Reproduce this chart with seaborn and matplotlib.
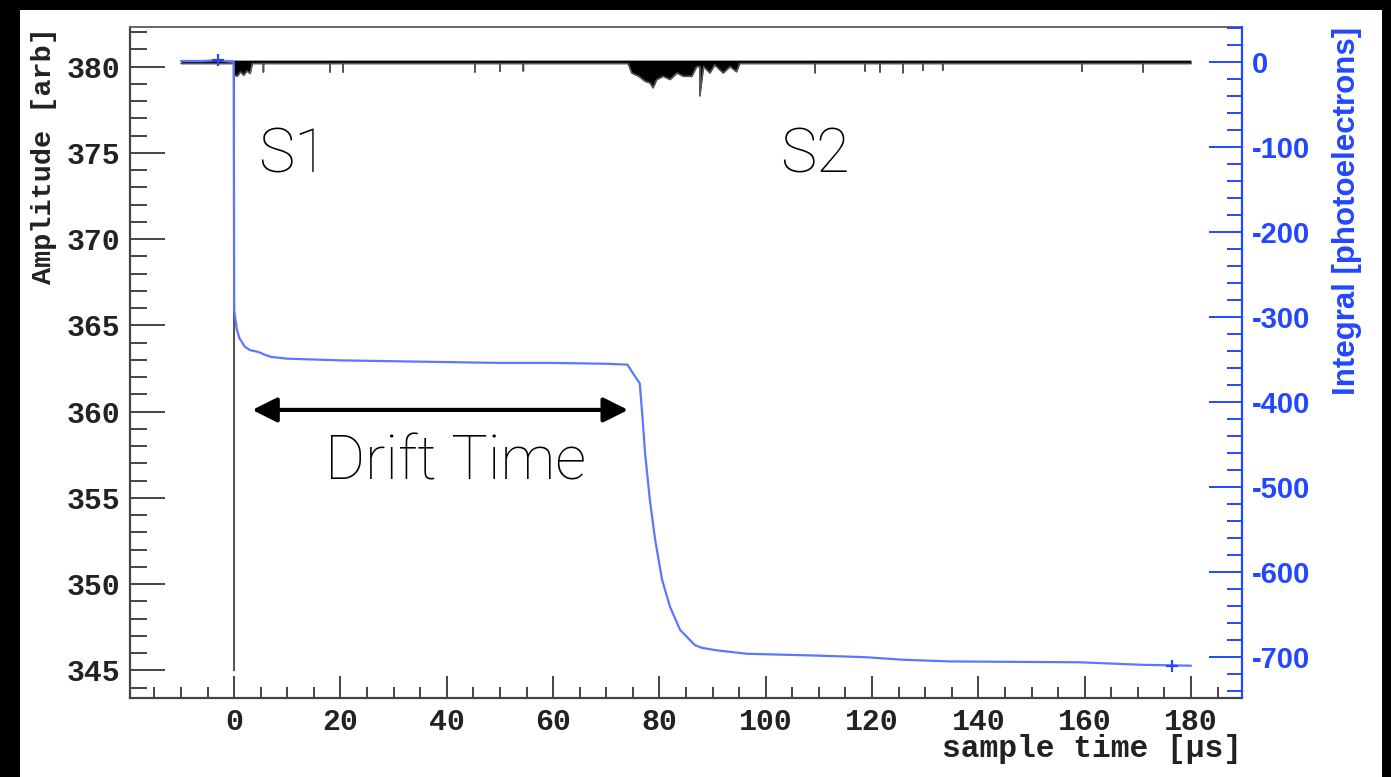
import matplotlib
matplotlib.use("Agg")
import matplotlib.pyplot as plt
import seaborn as sns
from matplotlib.ticker import MultipleLocator
from matplotlib.patches import Rectangle

# digitised waveform (left axis): lower envelope of the trace, upper edge of the noise band
amp_t = [-10.0, 0.0, 0.0, 0.0, 0.6, 1.2, 1.8, 2.4, 3.0, 3.4,
         5.5, 5.5, 5.5, 18.0, 18.0, 18.0, 20.5, 20.5, 20.5,
         45.3, 45.3, 45.3, 50.0, 50.0, 50.0, 54.4, 54.4, 54.4,
         74.1, 74.8, 76.1, 77.3, 78.2, 78.8, 79.5, 80.7, 82.0, 83.3,
         84.5, 86.1, 87.0, 87.6, 87.6, 88.3, 89.5, 90.4, 92.0, 93.3,
         94.5, 95.1, 109.3, 109.3, 109.3, 118.7, 118.7, 118.7,
         121.5, 121.5, 121.5, 125.8, 125.8, 125.8, 129.6, 129.6, 129.6,
         133.3, 133.3, 133.3, 159.5, 159.5, 159.5, 171.0, 171.0, 171.0, 180.0]
amp_lo = [380.18, 380.18, 345.0, 379.5, 379.45, 379.7, 379.5, 379.75, 379.6, 380.18,
          380.18, 379.7, 380.18, 380.18, 379.7, 380.18, 380.18, 379.7, 380.18,
          380.18, 379.7, 380.18, 380.18, 379.75, 380.18, 380.18, 379.75, 380.18,
          380.18, 379.63, 379.44, 379.15, 379.06, 378.77, 379.25, 379.44, 379.25, 379.63,
          379.44, 379.44, 380.0, 380.0, 378.3, 380.0, 379.63, 380.1, 379.63, 380.0,
          379.7, 380.18, 380.18, 379.65, 380.18, 380.18, 379.75, 380.18,
          380.18, 379.7, 380.18, 380.18, 379.65, 380.18, 380.18, 379.8, 380.18,
          380.18, 379.8, 380.18, 380.18, 379.75, 380.18, 380.18, 379.7, 380.18, 380.18]
amp_hi = 380.38

# integrated charge (right axis)
int_t = [-10.0, -6.0, -3.0, -0.1, 0.0, 0.5, 1.0, 2.0, 3.0, 4.5, 6.0, 7.0, 10.0,
         15.0, 20.0, 30.0, 40.0, 50.0, 60.0, 70.0, 74.0, 75.0, 76.3, 76.9, 77.3,
         78.2, 79.2, 80.5, 82.0, 83.9, 86.7, 88.0, 90.8, 96.5, 109.0, 118.7,
         125.8, 134.7, 159.0, 171.0, 180.0]
int_pe = [1, 1, 2, 0, -292, -315, -325, -335, -339, -341, -345, -347, -349,
          -350, -351, -352, -353, -354, -354, -355, -356, -366, -378, -425, -460,
          -515, -562, -609, -641, -668, -686, -689, -692, -696, -698, -700,
          -703, -705, -706, -709, -710]

# error-bar crosses on the integral
mark_t = [-3.0, 176.4]
mark_pe = [2, -710]

blue = "#2347ff"
blue_line = "#5a78ff"
frame = "#444444"
ink = "#222222"

sns.set_theme(style="white")
plt.rcParams["font.family"] = ["Liberation Mono", "DejaVu Sans"]
plt.rcParams["font.weight"] = "bold"
plt.rcParams["axes.unicode_minus"] = False

W, H = 1391, 777
fig = plt.figure(figsize=(W / 100, H / 100), dpi=100)
fig.patch.set_facecolor("black")
fig.add_artist(Rectangle((20 / W, 0), (1382 - 20) / W, 1 - 10 / H,
                         transform=fig.transFigure, facecolor="white",
                         edgecolor="none", zorder=-1))

ax = fig.add_axes([130 / W, 1 - 698 / H, (1242 - 130) / W, (698 - 27) / H])
ax.set_facecolor("white")
ax2 = ax.twinx()

# black waveform
ax.fill_between(amp_t, amp_lo, amp_hi, color="black", lw=0, zorder=2)
sns.lineplot(x=amp_t, y=amp_lo, ax=ax, color="#555555", lw=1.2,
             estimator=None, sort=False, zorder=3)

# blue integral
sns.lineplot(x=int_t, y=int_pe, ax=ax2, color=blue_line, lw=1.6,
             estimator=None, sort=False, zorder=3)
sns.scatterplot(x=mark_t, y=mark_pe, ax=ax2, marker="+", s=80,
                color=blue, linewidth=1.6, zorder=4)

ax.set_xlim(-19.6, 189.6)
ax.set_ylim(343.4, 382.3)
ax2.set_ylim(-748, 41)

ax.xaxis.set_major_locator(MultipleLocator(20))
ax.xaxis.set_minor_locator(MultipleLocator(5))
ax.yaxis.set_major_locator(MultipleLocator(5))
ax.yaxis.set_minor_locator(MultipleLocator(1))
ax2.yaxis.set_major_locator(MultipleLocator(100))
ax2.yaxis.set_minor_locator(MultipleLocator(20))

ax.tick_params(axis="y", which="major", direction="in", length=25, width=1.4,
               color=frame, labelsize=21.5, pad=7, labelcolor=ink,
               left=True, right=False)
ax.tick_params(axis="y", which="minor", direction="in", length=12, width=1.4,
               color=frame, left=True, right=False)
ax.tick_params(axis="x", which="major", direction="in", length=16, width=1.4,
               color=frame, labelsize=21.5, pad=7, labelcolor=ink,
               bottom=True, top=False)
ax.tick_params(axis="x", which="minor", direction="in", length=8, width=1.4,
               color=frame, bottom=True, top=False)
ax2.tick_params(axis="y", which="major", direction="in", length=24, width=1.4,
                color=blue, labelsize=21, pad=7, labelcolor=blue,
                right=True, left=False)
ax2.tick_params(axis="y", which="minor", direction="in", length=11, width=1.4,
                color=blue, right=True, left=False)
for lab in ax2.get_yticklabels():
    lab.set_fontfamily("Liberation Sans")
    lab.set_fontweight("bold")

for s in ["left", "bottom"]:
    ax.spines[s].set_color(frame)
    ax.spines[s].set_linewidth(1.6)
ax.spines["top"].set_color("#666666")
ax.spines["top"].set_linewidth(1.4)
ax.spines["right"].set_visible(False)
for s in ["left", "bottom", "top"]:
    ax2.spines[s].set_visible(False)
ax2.spines["right"].set_color(blue)
ax2.spines["right"].set_linewidth(1.6)

ax.set_ylabel("Amplitude [arb]", fontsize=20.5, color=ink, loc="top",
              weight="bold")
ax.yaxis.set_label_coords(-0.0656, 1.0)
ax.set_xlabel("sample time [\u00b5s]", fontsize=22.5, color=ink, loc="right",
              weight="bold")
ax.xaxis.set_label_coords(1.0, -0.0536)
ax2.set_ylabel("Integral [photoelectrons]", fontsize=22.5, color=blue,
               loc="top", family="Liberation Sans", weight="bold")
ax2.yaxis.set_label_coords(1.081, 1.0)

# annotations
note = dict(family=["Roboto", "DejaVu Sans"], weight="light", size=44,
            color="black", va="baseline", ha="left")
ax.text(4.5, 373.86, "S1", **note)
ax.text(102.7, 373.86, "S2", **note)
ax.text(17.1, 356.07, "Drift Time", **note)
ax.annotate("", xy=(3.4, 360.1), xytext=(74.1, 360.1),
            arrowprops=dict(arrowstyle="<|-|>,head_length=1.0,head_width=0.5",
                            color="black", lw=3.0, mutation_scale=15,
                            shrinkA=0, shrinkB=0))

fig.savefig("out.png", dpi=100, facecolor=fig.get_facecolor())
